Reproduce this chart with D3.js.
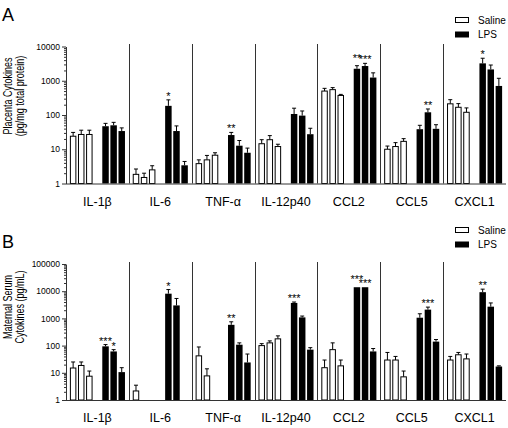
<!DOCTYPE html>
<html><head><meta charset="utf-8">
<script src="https://cdn.jsdelivr.net/npm/d3@7"></script>
<style>
body{margin:0;background:#fff}
svg{display:block;font-family:"Liberation Sans",Arial,Helvetica,sans-serif}
</style>
</head><body>
<svg id="chart" width="508" height="428"></svg>
<script>
// ---------- DATA ----------
const categories = ["IL-1β","IL-6","TNF-α","IL-12p40","CCL2","CCL5","CXCL1"];
const seriesNames = ["Saline","LPS"];

// Panel A: Placenta cytokines (pg/mg total protein), 3 bars per group
const salineA    = [[24,27,27],[1.85,1.5,2.5],[3.8,4.9,6.7],[14.5,19,12],[500,550,372],[10,12,17],[212,168,120]];
const salineErrA = [[31,36,36],[2.65,2.0,3.3],[4.9,6.6,7.9],[19,25,14],[600,630,400],[12.4,15.6,20.4],[280,215,161]];
const lpsA       = [[47,50,34],[185,34,3.4],[26,12.7,7.9],[107,96,27.5],[2240,2690,1240],[38.5,120,39.5],[3220,2140,705]];
const lpsErrA    = [[57,61,42],[277,48,4.4],[31,18,10.8],[158,131,41],[2750,3220,1700],[50,150,52],[4540,2880,1180]];
const sigA       = [["","",""],["*","",""],["**","",""],["","",""],["**","***",""],["","**",""],["*","",""]];
const ticksA     = [1,10,100,1000,10000];
const titleA     = ["Placenta Cytokines","(pg/mg total protein)"];

// Panel B: Maternal serum cytokines (pg/mL)
const salineB    = [[15,18.6,7.5],[2.15,null,null],[42,7.7,null],[100,126,177],[15.4,71,18],[29.5,29.5,7.1],[29.5,46,32.5]];
const salineErrB = [[25,25,11.6],[3.5,null,null],[89,14,null],[118,149,228],[29.5,126,29.5],[56,40,11.6],[40,56,49]];
const lpsB       = [[94,61,10.6],[8100,3000,null],[580,108,24],[3700,1090,71],[14000,14000,61],[1060,2100,140],[9200,2700,17]];
const lpsErrB    = [[109,71,15.4],[11500,5400,null],[750,126,49],[4000,1220,84],[null,null,78],[1480,2600,167],[11900,3700,18]];
const sigB       = [["***","*",""],["*","",""],["**","",""],["***","",""],["***","***",""],["","***",""],["**","",""]];
const ticksB     = [1,10,100,1000,10000,100000];
const titleB     = ["Maternal Serum","Cytokines (pg/mL)"];

// ---------- DRAW ----------
const svg = d3.select("#chart");
const X0 = 66, X1 = 506;
const x = d3.scaleBand().domain(categories).range([X0, X1]);
const inner = d3.scaleBand().domain(d3.range(7)).range([0, x.bandwidth()])
  .paddingInner(0.2).paddingOuter(0.48);

const panels = [
  {letter:"A", sal:salineA, salErr:salineErrA, lps:lpsA, lpsErr:lpsErrA, sig:sigA, ticks:ticksA, title:titleA,
   top:46.5, bottom:183.5, divTop:44, letterY:21, titleY:96, legY:17},
  {letter:"B", sal:salineB, salErr:salineErrB, lps:lpsB, lpsErr:lpsErrB, sig:sigB, ticks:ticksB, title:titleB,
   top:264, bottom:400, divTop:262, letterY:248, titleY:307, legY:227}
];

panels.forEach(p => {
  const g = svg.append("g");
  const y = d3.scaleLog().domain([1, d3.max(p.ticks)]).range([p.bottom, p.top]).clamp(true);

  // bar records
  const bars = [];
  categories.forEach((c, ci) => {
    for (let j = 0; j < 3; j++) {
      bars.push({c, ci, slot:j, v:p.sal[ci][j], e:p.salErr[ci][j], s:"", series:0});
      bars.push({c, ci, slot:j+4, v:p.lps[ci][j], e:p.lpsErr[ci][j], s:p.sig[ci][j], series:1});
    }
  });
  const shown = bars.filter(d => d.v != null);
  const bx = d => x(d.c) + inner(d.slot);
  const bw = inner.bandwidth();

  // dividers
  g.selectAll("line.div").data(categories.slice(1)).join("line")
    .attr("x1", d => Math.round(x(d)) + 0.5).attr("x2", d => Math.round(x(d)) + 0.5)
    .attr("y1", p.divTop).attr("y2", p.bottom)
    .attr("stroke", "#333").attr("stroke-width", 1);

  // error bars
  const eb = shown.filter(d => d.e != null);
  g.selectAll("line.err").data(eb).join("line")
    .attr("x1", d => bx(d) + bw/2).attr("x2", d => bx(d) + bw/2)
    .attr("y1", d => y(d.v)).attr("y2", d => y(d.e))
    .attr("stroke", "#000").attr("stroke-width", 1);
  g.selectAll("line.cap").data(eb).join("line")
    .attr("x1", d => bx(d) + bw/2 - 2).attr("x2", d => bx(d) + bw/2 + 2)
    .attr("y1", d => y(d.e)).attr("y2", d => y(d.e))
    .attr("stroke", "#000").attr("stroke-width", 1);

  // bars
  g.selectAll("rect.bar").data(shown).join("rect")
    .attr("x", d => d.series ? bx(d) : bx(d) + 0.5)
    .attr("width", d => d.series ? bw : bw - 1)
    .attr("y", d => y(d.v))
    .attr("height", d => p.bottom - y(d.v))
    .attr("fill", d => d.series ? "#000" : "#fff")
    .attr("stroke", d => d.series ? "none" : "#000")
    .attr("stroke-width", 1);

  // significance stars
  const st = shown.filter(d => d.s);
  st.forEach(d => { d.sy = y(d.e != null ? d.e : d.v) - 4; });
  st.forEach(d => {
    const nb = st.find(o => o.ci === d.ci && o.slot === d.slot + 1);
    if (nb && Math.abs(nb.sy - d.sy) < 3) d.sy -= 4;
  });
  g.selectAll("text.star").data(st).join("text")
    .attr("x", d => bx(d) + bw/2).attr("y", d => d.sy + 4)
    .attr("text-anchor", "middle").attr("font-size", 11).text(d => d.s);

  // baseline
  g.append("line").attr("x1", X0).attr("x2", X1).attr("y1", p.bottom + 0.5).attr("y2", p.bottom + 0.5)
    .attr("stroke", "#333").attr("stroke-width", 1);

  // y axis (major)
  const ax = g.append("g").attr("transform", `translate(${X0},0)`)
    .call(d3.axisLeft(y).tickValues(p.ticks).tickFormat(d3.format("d")).tickSize(4).tickSizeOuter(0).tickPadding(2));
  ax.selectAll("text").attr("font-size", 8.5).attr("font-family", "Liberation Sans, Arial, sans-serif").attr("fill", "#000");
  ax.select(".domain").attr("stroke", "#333");
  ax.selectAll(".tick line").attr("stroke", "#333");
  // minor ticks
  const minors = [];
  p.ticks.slice(0, -1).forEach(t => { for (let k = 2; k < 10; k++) minors.push(t * k); });
  const mx = g.append("g").attr("transform", `translate(${X0},0)`)
    .call(d3.axisLeft(y).tickValues(minors).tickFormat("").tickSize(2).tickSizeOuter(0));
  mx.select(".domain").remove();
  mx.selectAll(".tick line").attr("stroke", "#333");

  // category labels
  g.selectAll("text.cat").data(categories).join("text")
    .attr("x", d => x(d) + x.bandwidth()/2).attr("y", p.bottom + 22)
    .attr("text-anchor", "middle").attr("font-size", 12.5).text(d => d);

  // y title (condensed, like the original)
  const tg = g.append("text").attr("transform", `translate(0,${p.titleY}) rotate(-90)`)
    .attr("text-anchor", "middle").attr("font-size", 12);
  tg.selectAll("tspan").data(p.title).join("tspan")
    .attr("x", 0).attr("y", (d, i) => 11.5 + i * 12.5).text(d => d);
  tg.selectAll("tspan").each(function() {
    const L = this.getComputedTextLength();
    d3.select(this).attr("textLength", L * 0.75).attr("lengthAdjust", "spacingAndGlyphs");
  });

  // panel letter
  g.append("text").attr("x", 2).attr("y", p.letterY).attr("font-size", 18).text(p.letter);

  // legend
  const lg = g.append("g");
  seriesNames.forEach((n, i) => {
    lg.append("rect").attr("x", 455.5).attr("y", p.legY + i * 14.5 + 0.5).attr("width", 13).attr("height", 5)
      .attr("fill", i ? "#000" : "#fff").attr("stroke", "#000").attr("stroke-width", 1);
    lg.append("text").attr("x", 478).attr("y", p.legY + i * 14.5 + 3).attr("dy", "0.35em")
      .attr("font-size", 10).text(n);
  });
});
</script>
</body></html>
